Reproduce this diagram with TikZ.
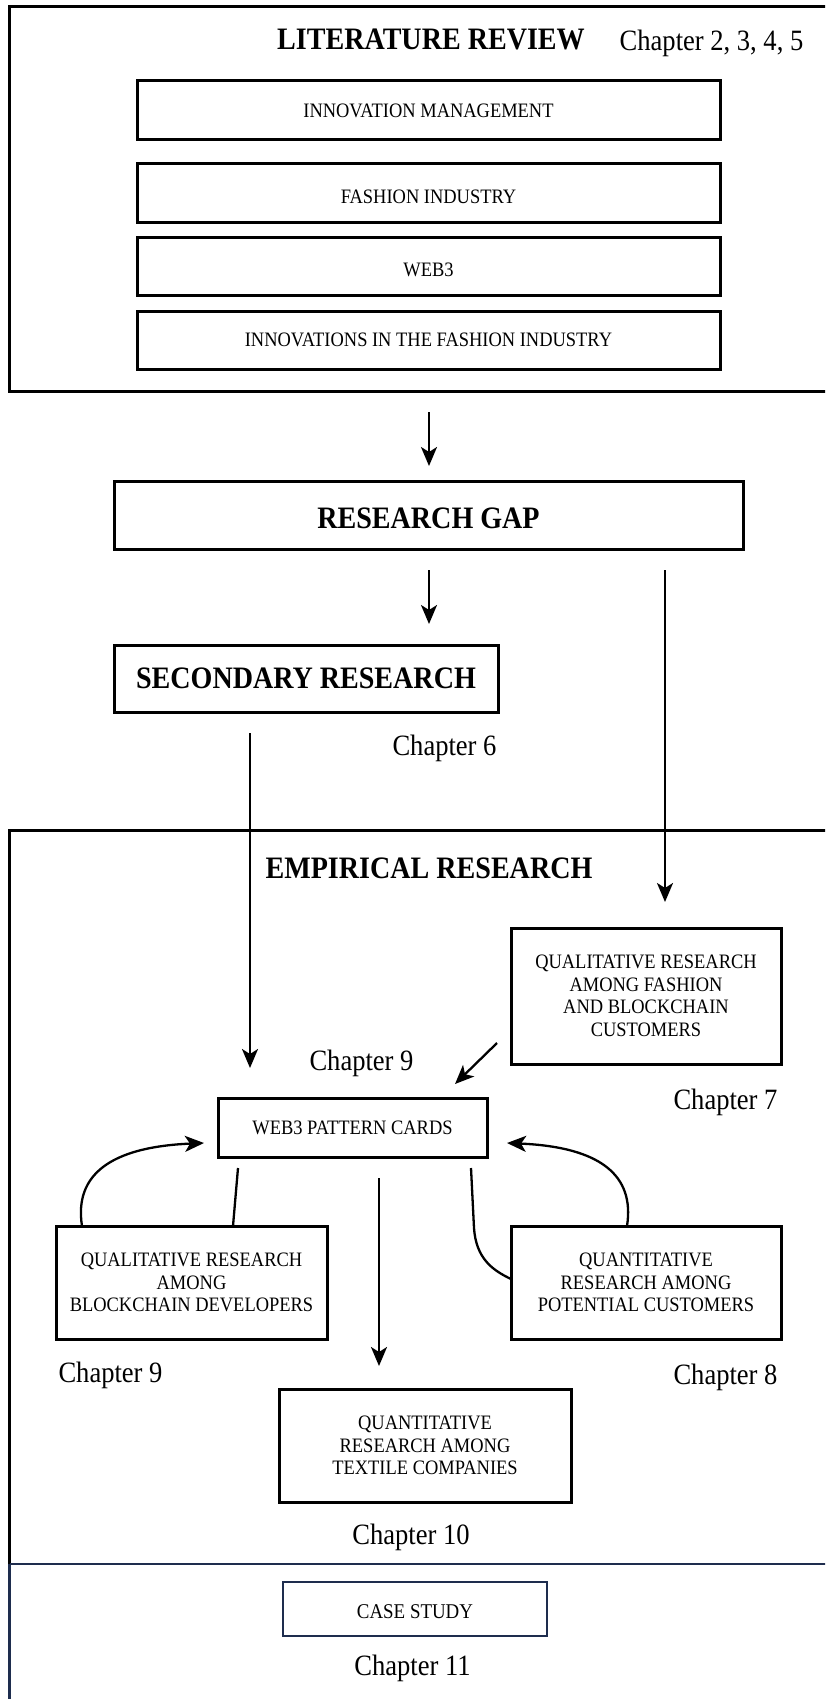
\documentclass[tikz,border=0pt]{standalone}
\usepackage{fontspec}
\setmainfont{Liberation Serif}[FakeStretch=0.9]
\usetikzlibrary{arrows.meta}
\definecolor{navy}{RGB}{30,45,78}
\begin{document}
\begin{tikzpicture}[x=1pt,y=-1pt,
  box/.style={draw, line width=3pt, align=center, inner sep=0pt, font=\fontsize{20.5}{22.5}\selectfont},
  bigbox/.style={draw, line width=3pt, inner sep=0pt, font=\bfseries\fontsize{31.2}{36}\selectfont},
  frame/.style={draw, line width=3pt},
  arr/.style={line width=2.3pt, -{Stealth[length=19pt,width=16pt,inset=5pt]}},
  conn/.style={line width=2.3pt},
  title/.style={font=\bfseries\fontsize{31.2}{36}\selectfont, anchor=base, inner sep=0pt},
  chap/.style={font=\fontsize{29.5}{34}\selectfont, anchor=base, inner sep=0pt}]
\useasboundingbox (0,0) rectangle (825,1699);
\clip (0,0) rectangle (825,1699);

% frames
\draw[frame] (840,7) -- (9.5,7) -- (9.5,391) -- (840,391);
\draw[frame] (840,830) -- (9.5,830) -- (9.5,1564);
\draw[navy, line width=2.4pt] (9.5,1564) -- (9.5,1710);
\draw[navy, line width=2.6pt] (9.5,1564) -- (840,1564);

% literature review
\node[title] (lrt) at (431,50) {LITERATURE REVIEW};
\node[chap] (lrc) at (711.5,51) {Chapter 2, 3, 4, 5};
\node[box, minimum width=583pt, minimum height=59pt] (im) at (428.5,110.5) {INNOVATION MANAGEMENT};
\node[box, minimum width=583pt, minimum height=58pt, text height=22pt, text depth=0pt] (fi) at (428.5,193) {FASHION INDUSTRY};
\node[box, minimum width=583pt, minimum height=58pt, text height=20pt, text depth=0pt] (wb) at (428.5,266) {WEB3};
\node[box, minimum width=583pt, minimum height=58pt] (ifi) at (428.5,340) {INNOVATIONS IN THE FASHION INDUSTRY};

% research gap / secondary
\node[bigbox, minimum width=629pt, minimum height=68pt, text height=27.5pt, text depth=0pt] (gap) at (428.5,515) {RESEARCH GAP};
\node[bigbox, minimum width=384pt, minimum height=67pt] (sec) at (306,678.5) {SECONDARY RESEARCH};
\node[chap] (c6) at (444.5,755.5) {Chapter 6};

% empirical
\node[title] (ert) at (429,878) {EMPIRICAL RESEARCH};
\node[box, minimum width=270pt, minimum height=136pt] (qf) at (646,996) {QUALITATIVE RESEARCH\\AMONG FASHION\\AND BLOCKCHAIN\\CUSTOMERS};
\node[chap] (c9a) at (361.5,1070) {Chapter 9};
\node[chap] (c7) at (725.5,1109) {Chapter 7};
\node[box, minimum width=269pt, minimum height=59pt] (wpc) at (352.5,1127.5) {WEB3 PATTERN CARDS};
\node[box, minimum width=271pt, minimum height=113pt] (qbd) at (191.5,1282.5) {QUALITATIVE RESEARCH\\AMONG\\BLOCKCHAIN DEVELOPERS};
\node[box, minimum width=270pt, minimum height=113pt] (qpc) at (646,1282.5) {QUANTITATIVE\\RESEARCH AMONG\\POTENTIAL CUSTOMERS};
\node[chap] (c9b) at (110.5,1382) {Chapter 9};
\node[chap] (c8) at (725.5,1384) {Chapter 8};
\node[box, minimum width=292pt, minimum height=113pt] (qtc) at (425,1445.5) {QUANTITATIVE\\RESEARCH AMONG\\TEXTILE COMPANIES};
\node[chap] (c10) at (411,1544) {Chapter 10};

% case study
\node[box, draw=navy, line width=2.6pt, minimum width=264pt, minimum height=54pt, text height=18.5pt, text depth=0pt, font=\fontsize{21}{24}\selectfont] (cs) at (415,1609) {CASE STUDY};
\node[chap] (c11) at (412.5,1675) {Chapter 11};

% connector end points
\coordinate (a1s) at (429,412);  \coordinate (a1e) at (429,466);
\coordinate (a2s) at (429,570);  \coordinate (a2e) at (429,624);
\coordinate (a3s) at (665,570);  \coordinate (a3e) at (665,902);
\coordinate (a4s) at (250,733);  \coordinate (a4e) at (250,1068);
\coordinate (a5s) at (497,1043); \coordinate (a5e) at (455,1084);
\coordinate (lcs) at (82,1226);  \coordinate (lce) at (204,1143);
\coordinate (lls) at (238,1168); \coordinate (lle) at (233,1226);
\coordinate (cas) at (379,1178); \coordinate (cae) at (379,1366);
\coordinate (rls) at (471,1168); \coordinate (rle) at (511,1279);
\coordinate (rcs) at (627,1226); \coordinate (rce) at (507,1143);

\draw[arr] (a1s) -- (a1e);
\draw[arr] (a2s) -- (a2e);
\draw[arr] (a3s) -- (a3e);
\draw[arr] (a4s) -- (a4e);
\draw[arr] (a5s) -- (a5e);
\draw[arr] (lcs) .. controls (74,1175) and (110,1147) .. (lce);
\draw[conn] (lls) -- (lle);
\draw[arr] (cas) -- (cae);
\draw[conn] (rls) -- (474,1228) .. controls (476,1258) and (492,1270) .. (rle);
\draw[arr] (rcs) .. controls (635,1175) and (600,1147) .. (rce);
\end{tikzpicture}
\end{document}
